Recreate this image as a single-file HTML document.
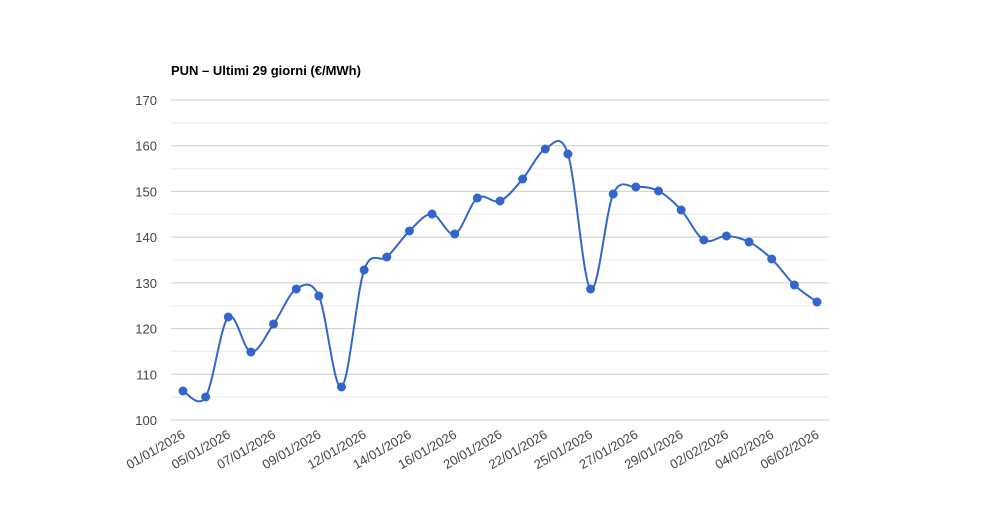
<!DOCTYPE html>
<html><head><meta charset="utf-8"><style>body{margin:0;background:#fff}svg{display:block}text{font-family:"Liberation Sans",Arial,sans-serif}</style></head><body>
<svg width="1000" height="520" xmlns="http://www.w3.org/2000/svg">
<text x="171" y="75" font-size="13" font-weight="bold" fill="#000">PUN – Ultimi 29 giorni (€/MWh)</text>
<g id="grid"></g>
<g id="lbl" font-size="13" fill="#444"></g>
<path id="line" fill="none" stroke="#3366cc" stroke-width="2"/>
<g id="pts" fill="#3366cc"></g>
</svg>
<script>
const ns="http://www.w3.org/2000/svg";
const g=document.getElementById('grid'),l=document.getElementById('lbl');
function el(t,a,p){const e=document.createElementNS(ns,t);for(const k in a)e.setAttribute(k,a[k]);p.appendChild(e);return e;}
for(let i=0;i<=14;i++){const y=420-i*320/14;
 el('line',{x1:171,x2:829,y1:y,y2:y,stroke:i%2?'#ebebeb':'#cccccc','stroke-width':1},g);
 if(i%2==0){const t=el('text',{x:157,y:y+5,'text-anchor':'end'},l);t.textContent=100+i*5;}}
const Y=[391,397,317,352,324,289,296,387,270,257,231,214,234,198,201,179,149,154,289,194,187,191,210,240,236,242,259,285,302];
const P=Y.map((y,i)=>[183+i*634/28,y]);
let d='M'+P[0];
for(let i=0;i<P.length-1;i++){const p0=P[i-1]||P[i],p1=P[i],p2=P[i+1],p3=P[i+2]||p2,s=6;
 d+=` C${p1[0]+(p2[0]-p0[0])/s},${p1[1]+(p2[1]-p0[1])/s} ${p2[0]-(p3[0]-p1[0])/s},${p2[1]-(p3[1]-p1[1])/s} ${p2[0]},${p2[1]}`;}
document.getElementById('line').setAttribute('d',d);
const pts=document.getElementById('pts');P.forEach(p=>el('circle',{cx:p[0],cy:p[1],r:4.5},pts));
const L=['01/01/2026','05/01/2026','07/01/2026','09/01/2026','12/01/2026','14/01/2026','16/01/2026','20/01/2026','22/01/2026','25/01/2026','27/01/2026','29/01/2026','02/02/2026','04/02/2026','06/02/2026'];
L.forEach((s,i)=>{const x=P[i*2][0]+3,y=437;const t=el('text',{x:x,y:y,'text-anchor':'end',transform:`rotate(-30 ${x} ${y})`},l);t.textContent=s;});
</script>
</body></html>
